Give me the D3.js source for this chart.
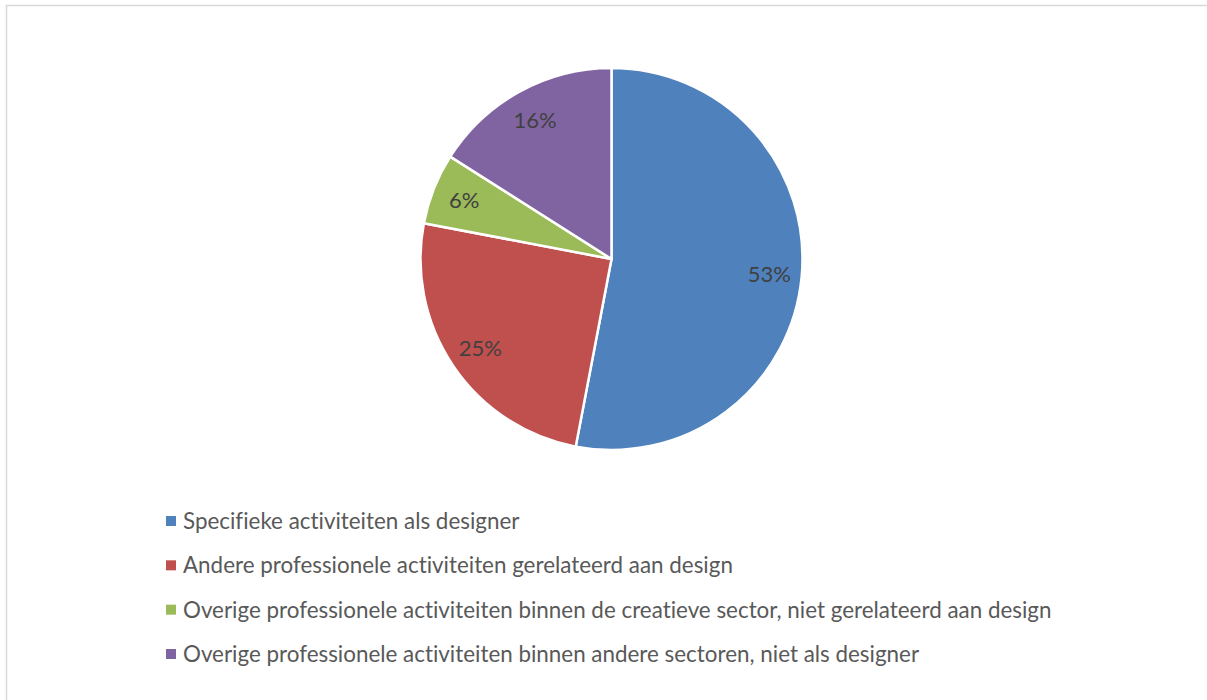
<!DOCTYPE html>
<html>
<head>
<meta charset="utf-8">
<script src="https://cdn.jsdelivr.net/npm/d3@7"></script>
<style>
  body { margin: 0; background: #fff; }
  svg text { font-family: Lato, "Open Sans", sans-serif; font-variant-ligatures: none; }
</style>
</head>
<body>
<div id="chart"></div>
<script>
// data
const categories = [
  'Specifieke activiteiten als designer',
  'Andere professionele activiteiten gerelateerd aan design',
  'Overige professionele activiteiten binnen de creatieve sector, niet gerelateerd aan design',
  'Overige professionele activiteiten binnen andere sectoren, niet als designer'
];
const values = [53, 25, 6, 16];
const colors = ['#4F81BD', '#C0504D', '#9BBB59', '#8064A2'];

const width = 1207;
const height = 700;
const cx = 611.5;
const cy = 259;
const radius = 191;

const svg = d3.select('#chart').append('svg')
  .attr('width', width)
  .attr('height', height);

// chart area border (runs off the right / bottom edge)
svg.append('rect')
  .attr('x', 6.5)
  .attr('y', 5.5)
  .attr('width', width + 20)
  .attr('height', height + 20)
  .attr('fill', '#fff')
  .attr('stroke', '#d9d9d9')
  .attr('stroke-width', 1.5);

const pie = d3.pie().sort(null).value(d => d);
const arcs = pie(values);

const arc = d3.arc().innerRadius(0).outerRadius(radius);
const labelArc = d3.arc().innerRadius(radius * 0.83).outerRadius(radius * 0.83);

const g = svg.append('g').attr('transform', `translate(${cx},${cy})`);

g.selectAll('path').data(arcs)
  .enter()
  .append('path')
  .attr('d', arc)
  .attr('fill', (d, i) => colors[i])
  .attr('stroke', '#fff')
  .attr('stroke-width', 2.5)
  .attr('stroke-linejoin', 'round');

g.selectAll('text.lbl').data(arcs)
  .enter()
  .append('text')
  .attr('class', 'lbl')
  .attr('transform', d => `translate(${labelArc.centroid(d)})`)
  .attr('text-anchor', 'middle')
  .attr('dy', '0.35em')
  .attr('fill', '#404040')
  .attr('font-size', 22)
  .text(d => d.data + '%');

// legend
const legend = svg.append('g').attr('transform', 'translate(166,0)');
const ly = d3.scalePoint().domain(d3.range(categories.length)).range([521, 654]);

const item = legend.selectAll('g').data(categories)
  .enter()
  .append('g')
  .attr('transform', (d, i) => `translate(0,${ly(i)})`);

item.append('rect')
  .attr('x', 0)
  .attr('y', -5)
  .attr('width', 10)
  .attr('height', 10)
  .attr('fill', (d, i) => colors[i]);

item.append('text')
  .attr('x', 17)
  .attr('dy', '0.35em')
  .attr('fill', '#595959')
  .attr('font-size', 22.4)
  .text(d => d);
</script>
</body>
</html>
